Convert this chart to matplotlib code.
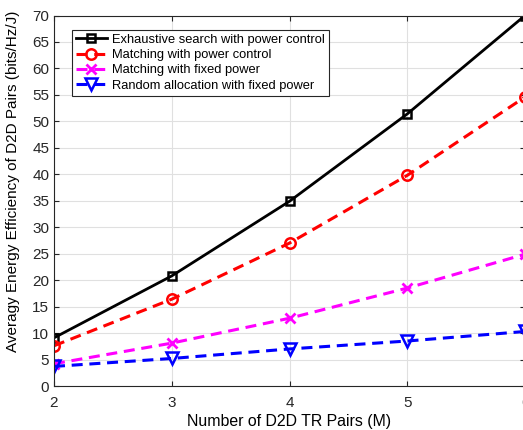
import matplotlib.pyplot as plt

plt.rcParams['font.family'] = ['Liberation Sans', 'DejaVu Sans']

# nombre de paires
m = [2, 3, 4, 5, 6]
exhaustive = [9.1, 20.8, 34.9, 51.4, 70.0]
match_pc = [7.6, 16.4, 27.0, 39.8, 54.6]
match_fixed = [4.2, 8.1, 12.8, 18.5, 24.9]
random_fixed = [3.7, 5.2, 7.0, 8.5, 10.3]

fig = plt.figure(figsize=(5.23, 4.30), dpi=100)
ax = fig.add_axes([54/523, 44/430, (525-54)/523, (386-15.5)/430])

dash = (3.6, 2.2)
ax.plot(m, exhaustive, "ks-", lw=2, ms=5.5, mfc="none", mew=1.8,
        label="Exhaustive search with power control")
ax.plot(m, match_pc, "ro--", lw=2.2, ms=7.5, mfc="none", mew=1.8, dashes=dash,
        label="Matching with power control")
ax.plot(m, match_fixed, "x--", color="#ff00ff", lw=2.2, ms=7, mew=2, dashes=dash,
        label="Matching with fixed power")
ax.plot(m, random_fixed, "bv--", lw=2.2, ms=8, mfc="none", mew=1.8, dashes=dash,
        label="Random allocation with fixed power")

ax.set_xlim(2, 6)
ax.set_ylim(0, 70)
ax.set_xticks([2, 3, 4, 5, 6])
ax.set_yticks(range(0, 71, 5))
ax.grid(True, color="#e0e0e0", lw=0.8)
ax.set_axisbelow(True)
ax.tick_params(direction="in", top=True, right=True, labelsize=11, colors="#262626")
ax.tick_params(axis="x", pad=7)
for s in ax.spines.values():
    s.set_color("#262626")
    s.set_linewidth(0.8)

ax.set_xlabel("Number of D2D TR Pairs (M)", fontsize=11.4, labelpad=3)
ax.set_ylabel("Averagy Energy Efficiency of D2D Pairs (bits/Hz/J)", fontsize=11)
ax.yaxis.set_label_coords(-0.072, 0.553)

leg = ax.legend(loc="upper left", bbox_to_anchor=(0.038, 0.961), fontsize=9.3,
                fancybox=False, edgecolor="#262626", framealpha=1,
                handlelength=2.4, borderpad=0.3, labelspacing=0.25,
                handletextpad=0.4, borderaxespad=0)
leg.get_frame().set_linewidth(0.8)

plt.savefig("out.png", dpi=100)
